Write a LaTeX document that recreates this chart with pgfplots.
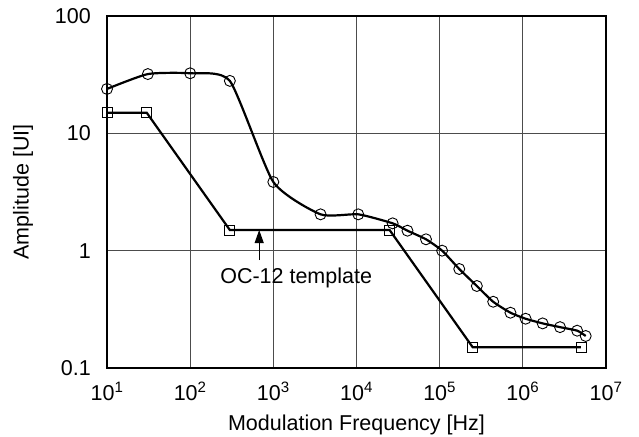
\documentclass[border=0pt]{standalone}
\usepackage{fontspec}
\setmainfont{Liberation Sans}
\usepackage{pgfplots}
\pgfplotsset{compat=1.18}
\usetikzlibrary{arrows.meta}

\begin{document}
\fontsize{21.5}{25}\selectfont
\begin{tikzpicture}
    \begin{axis}[
        at={(107pt,-16pt)}, anchor=north west,
        scale only axis,
        width=499pt, height=352pt,
        xmode=log, ymode=log,
        xmin=10, xmax=1e7,
        ymin=0.1, ymax=100,
        xtick={10,100,1000,10000,100000,1000000,10000000},
        xticklabels={10\textsuperscript{1},10\textsuperscript{2},10\textsuperscript{3},10\textsuperscript{4},10\textsuperscript{5},10\textsuperscript{6},10\textsuperscript{7}},
        ytick={0.1,1,10,100},
        yticklabels={0.1,1,10,100},
        minor tick num=0,
        tick style={draw=none},
        grid=major,
        grid style={black!70, line width=0.9pt},
        axis line style={line width=1.8pt},
        x tick label style={inner sep=0pt, yshift=-14pt},
        y tick label style={inner sep=0pt, xshift=-16pt},
        xlabel={Modulation Frequency [Hz]},
        ylabel={Amplitude [UI]},
        xlabel style={at={(axis description cs:0.5,0)}, anchor=base, yshift=-62pt},
        ylabel style={at={(axis description cs:-0.157,0.5)}, anchor=base, rotate=0},
    ]
        % measured curve
        \addplot[black, line width=2.2pt, smooth, tension=0.35,
            mark=o, mark size=5.5pt, mark options={line width=0.9pt}] coordinates {
            (10,23.9) (31,32) (100,32.5) (300,28) (1000,3.85) (3700,2.04)
            (10500,2.04) (27200,1.71) (41000,1.48) (68500,1.25) (107000,1.0)
            (172000,0.698) (280000,0.50) (440000,0.367) (710000,0.296)
            (1080000,0.263) (1730000,0.240) (2800000,0.223) (4500000,0.208)
            (5700000,0.1875)
        };
        % OC-12 template
        \addplot[black, line width=2.2pt,
            mark=square, mark size=5pt, mark options={line width=0.9pt}] coordinates {
            (10,15) (30,15) (300,1.5) (25000,1.5) (250000,0.15) (5000000,0.15)
        };
        \draw[-{Triangle[length=13pt,width=9pt]}, line width=1pt]
            (axis cs:676,0.83) -- (axis cs:676,1.5);
        \node[anchor=base west, inner sep=0pt] at (axis cs:229,0.53) {OC-12 template};
    \end{axis}
    \pgfresetboundingbox
    \path (0,0) rectangle (639pt,-436pt);
\end{tikzpicture}
\end{document}
